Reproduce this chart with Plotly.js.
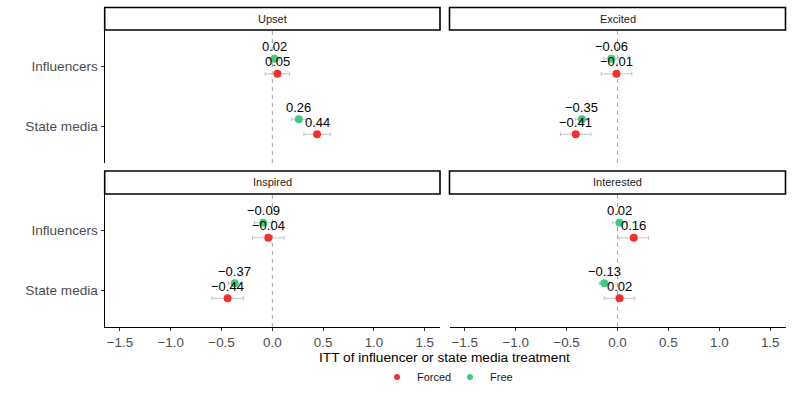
<!DOCTYPE html>
<html>
<head>
<meta charset="utf-8">
<script src="https://cdn.plot.ly/plotly-3.0.1.min.js"></script>
<style>
  html, body { margin: 0; padding: 0; background: #ffffff; }
  #chart { width: 793px; height: 397px; }
</style>
</head>
<body>
<div id="chart"></div>
<script>
// facet panels, in reading order (top-left, top-right, bottom-left, bottom-right)
const emotions = ["Upset", "Excited", "Inspired", "Interested"];
const sources = ["Influencers", "State media"];
const sourcePos = [2, 1];

// ITT estimates per panel, [Influencers, State media]
const forcedEst = [[0.05, 0.44], [-0.01, -0.41], [-0.04, -0.44], [0.16, 0.02]];
const freeEst = [[0.02, 0.26], [-0.06, -0.35], [-0.09, -0.37], [0.02, -0.13]];

// half width of the error bars
const forcedErr = [[0.12, 0.13], [0.15, 0.15], [0.155, 0.155], [0.145, 0.15]];
const freeErr = [[0.05, 0.07], [0.075, 0.06], [0.085, 0.06], [0.07, 0.05]];

const xTicks = [-1.5, -1.0, -0.5, 0.0, 0.5, 1.0, 1.5];

const RED = "#F42F2F";
const GREEN = "#3CCB7F";
const FONT = "Liberation Sans, Arial, sans-serif";
const W = 793, H = 397;
const dodge = 0.125;

const fmt = (v, d) => v.toFixed(d).replace("-", "\u2212");

// pixel boxes -> paper fractions
const px = (v) => v / W;
const py = (v) => (H - v) / H;
const colX = [[104.7, 440], [449.5, 785.5]];
const rowY = [[30, 163], [194, 327]];
const stripY = [[7.5, 30], [171, 194]];

const traces = [];
const annotations = [];
const shapes = [];
const layout = {
  width: W, height: H,
  margin: { l: 0, r: 0, t: 0, b: 0 },
  paper_bgcolor: "#ffffff",
  plot_bgcolor: "#ffffff",
  font: { family: FONT, color: "#1a1a1a" },
  showlegend: true,
  legend: {
    orientation: "h",
    x: px(377), xanchor: "left",
    y: py(377), yanchor: "middle",
    entrywidth: 28,
    font: { size: 11, color: "#1a1a1a", family: FONT },
    traceorder: "normal"
  }
};

emotions.forEach((emo, p) => {
  const col = p % 2, row = Math.floor(p / 2);
  const sfx = p === 0 ? "" : String(p + 1);
  const xa = "x" + sfx, ya = "y" + sfx;

  layout["xaxis" + sfx] = {
    domain: [px(colX[col][0]), px(colX[col][1])],
    anchor: ya,
    range: [-1.65, 1.65],
    tickmode: "array",
    tickvals: xTicks,
    ticktext: xTicks.map(v => fmt(v, 1)),
    showticklabels: row === 1,
    ticks: row === 1 ? "outside" : "",
    ticklen: 3, tickwidth: 1, tickcolor: "#333333",
    tickfont: { size: 13.4, color: "#4d4d4d", family: FONT },
    showline: row === 1, linecolor: "#000000", linewidth: 1.1,
    showgrid: false, zeroline: false, fixedrange: true
  };
  layout["yaxis" + sfx] = {
    domain: [py(rowY[row][1]), py(rowY[row][0])],
    anchor: xa,
    range: [0.4, 2.6],
    tickmode: "array",
    tickvals: sourcePos,
    ticktext: sources,
    showticklabels: col === 0,
    ticks: col === 0 ? "outside" : "",
    ticklen: 3, tickwidth: 1, tickcolor: "#333333",
    tickfont: { size: 13.6, color: "#4d4d4d", family: FONT },
    showline: col === 0, linecolor: "#000000", linewidth: 1.1,
    showgrid: false, zeroline: false, fixedrange: true
  };

  // reference line at zero
  shapes.push({
    type: "line", xref: xa, yref: ya + " domain",
    x0: 0, x1: 0, y0: 0, y1: 1, layer: "below",
    line: { color: "#ababab", width: 1.1, dash: "4px,4px" }
  });

  // facet strip
  shapes.push({
    type: "rect", xref: "paper", yref: "paper",
    x0: px(colX[col][0]), x1: px(colX[col][1]),
    y0: py(stripY[row][1]), y1: py(stripY[row][0]),
    fillcolor: "#ffffff", line: { color: "#000000", width: 1.6 }
  });
  annotations.push({
    xref: "paper", yref: "paper",
    x: px((colX[col][0] + colX[col][1]) / 2),
    y: py((stripY[row][0] + stripY[row][1]) / 2),
    text: emo, showarrow: false, xanchor: "center", yanchor: "middle",
    font: { size: 11, color: "#1a1a1a", family: FONT }
  });

  const groups = [
    { name: "Forced", est: forcedEst[p], err: forcedErr[p], off: -dodge, color: RED },
    { name: "Free", est: freeEst[p], err: freeErr[p], off: dodge, color: GREEN }
  ];
  groups.forEach(g => {
    const ys = sourcePos.map(v => v + g.off);
    traces.push({
      type: "scatter", mode: "markers",
      x: g.est, y: ys, xaxis: xa, yaxis: ya,
      name: g.name, showlegend: false,
      marker: { color: g.color, size: 8 },
      error_x: { type: "data", array: g.err, visible: true,
                 color: "#c4c4c4", thickness: 1, width: 2 },
      hoverinfo: "skip"
    });
    g.est.forEach((v, i) => {
      annotations.push({
        xref: xa, yref: ya, x: v, y: ys[i],
        text: fmt(v, 2), showarrow: false,
        xanchor: "center", yanchor: "middle", yshift: 12,
        font: { size: 13, color: "#000000", family: FONT }
      });
    });
  });
});

// legend-only entries
[["Forced", RED], ["Free", GREEN]].forEach(([name, color]) => {
  traces.push({
    type: "scatter", mode: "markers", x: [null], y: [null],
    name: name, marker: { color: color, size: 6 }, hoverinfo: "skip"
  });
});

// shared x axis title
annotations.push({
  xref: "paper", yref: "paper", x: px(445), y: py(357),
  text: "ITT of influencer or state media treatment", showarrow: false,
  xanchor: "center", yanchor: "middle",
  font: { size: 13.7, color: "#000000", family: FONT }
});

layout.shapes = shapes;
layout.annotations = annotations;

Plotly.newPlot("chart", traces, layout, { displayModeBar: false, staticPlot: true });
</script>
</body>
</html>
